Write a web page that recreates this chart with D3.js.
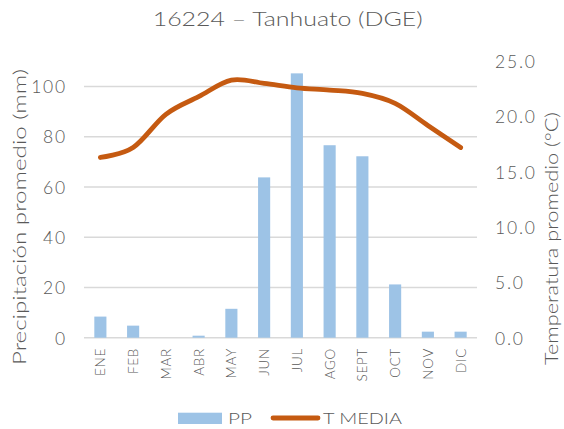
<!DOCTYPE html>
<html><head><meta charset="utf-8">
<script src="https://cdn.jsdelivr.net/npm/d3@7"></script>
<style>body{margin:0;background:#fff}svg{display:block}text{font-family:Lato,"Open Sans",sans-serif;font-weight:300;fill:#595959}</style>
</head><body><svg id="c" width="564" height="429"></svg>
<script>
const months = ["ENE","FEB","MAR","ABR","MAY","JUN","JUL","AGO","SEPT","OCT","NOV","DIC"];
const pp = [8.4, 4.8, 0, 0.8, 11.5, 63.8, 105.2, 76.6, 72.2, 21.2, 2.4, 2.4];
const tmedia = [16.3, 17.2, 20.2, 21.8, 23.3, 23.0, 22.6, 22.4, 22.1, 21.2, 19.2, 17.2];
const leftTicks = [0, 20, 40, 60, 80, 100];
const rightTicks = [0, 5, 10, 15, 20, 25];

const svg = d3.select("#c");
const L = 84, R = 477, T = 61.3, B = 337.7;
const x = d3.scaleBand().domain(months).range([L, R]).paddingInner(0.63).paddingOuter(0.315);
const xc = d3.scalePoint().domain(months).range([L, R]).padding(0.5);
const yL = d3.scaleLinear().domain([0, 110]).range([B, T]);
const yR = d3.scaleLinear().domain([0, 25]).range([B, T]);

// grid
svg.append("g").selectAll("line").data(leftTicks).join("line")
  .attr("x1", L).attr("x2", R).attr("y1", d => yL(d)).attr("y2", d => yL(d))
  .attr("stroke", "#d9d9d9").attr("stroke-width", 1.5);

// left axis
const ga = svg.append("g").attr("transform", `translate(${L},0)`)
  .call(d3.axisLeft(yL).tickValues(leftTicks).tickSize(0).tickPadding(17));
ga.select(".domain").remove();
ga.selectAll("text").style("font-size", "17.5px").style("letter-spacing", "1.8px").attr("fill", "#595959").attr("dy", "0.36em");

const gr = svg.append("g").attr("transform", `translate(${R},0)`)
  .call(d3.axisRight(yR).tickValues(rightTicks).tickFormat(d3.format(".1f")).tickSize(0).tickPadding(18));
gr.select(".domain").remove();
gr.selectAll("text").style("font-size", "17.5px").style("letter-spacing", "1.8px").attr("fill", "#595959").attr("dy", "0.36em");

// bars
svg.append("g").selectAll("rect").data(pp).join("rect")
  .attr("x", (d, i) => x(months[i])).attr("width", x.bandwidth())
  .attr("y", d => yL(d)).attr("height", d => B - yL(d))
  .attr("fill", "#9dc3e6");

// x labels
svg.append("g").selectAll("text").data(months).join("text")
  .attr("transform", d => `translate(${xc(d) + 5},348) rotate(-90)`)
  .attr("text-anchor", "end").style("font-size", "13.5px").style("letter-spacing", "0.7px").text(d => d);

// line
const line = d3.line().x((d, i) => xc(months[i])).y(d => yR(d)).curve(d3.curveCatmullRom.alpha(0));
svg.append("path").datum(tmedia).attr("d", line).attr("fill", "none")
  .attr("stroke", "#c55a11").attr("stroke-width", 4.8).attr("stroke-linecap", "round");

// title
svg.append("text").attr("x", 152.7).attr("y", 26)
  .attr("textLength", 270).attr("lengthAdjust", "spacingAndGlyphs")
  .style("font-size", "19px").text("16224 – Tanhuato (DGE)");

// axis titles
svg.append("text").attr("transform", "translate(26,365) rotate(-90)")
  .attr("textLength", 296).attr("lengthAdjust", "spacingAndGlyphs")
  .style("font-size", "17px").text("Precipitación promedio (mm)");
svg.append("text").attr("transform", "translate(558,365) rotate(-90)")
  .attr("textLength", 253).attr("lengthAdjust", "spacingAndGlyphs")
  .style("font-size", "17px").text("Temperatura promedio (°C)");

// legend
const lg = svg.append("g");
lg.append("rect").attr("x", 178).attr("y", 412.7).attr("width", 44).attr("height", 11.3).attr("fill", "#9dc3e6");
lg.append("text").attr("x", 228).attr("y", 424).attr("textLength", 24).attr("lengthAdjust", "spacingAndGlyphs")
  .style("font-size", "16.5px").text("PP");
lg.append("line").attr("x1", 273).attr("x2", 318).attr("y1", 418).attr("y2", 418)
  .attr("stroke", "#c55a11").attr("stroke-width", 4.8).attr("stroke-linecap", "round");
lg.append("text").attr("x", 323).attr("y", 424).attr("textLength", 79).attr("lengthAdjust", "spacingAndGlyphs")
  .style("font-size", "16.5px").text("T MEDIA");
</script></body></html>
